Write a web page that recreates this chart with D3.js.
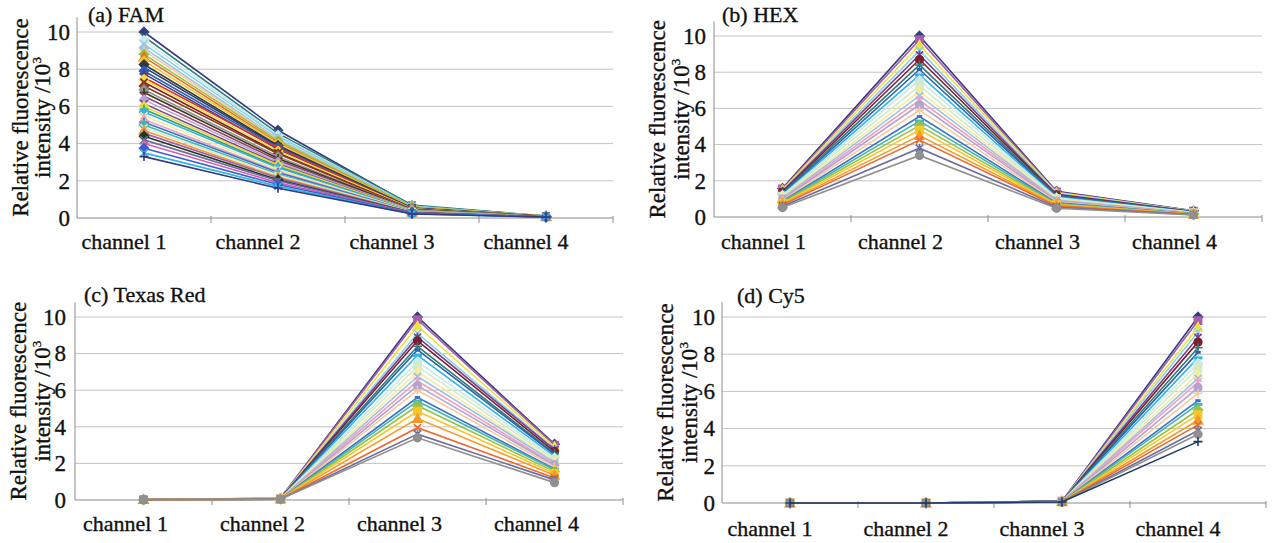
<!DOCTYPE html>
<html>
<head>
<meta charset="utf-8">
<script src="https://cdn.jsdelivr.net/npm/d3@7"></script>
<style>
  body { margin: 0; background: #fff; }
  svg { display: block; }
  svg text { font-family: "Liberation Serif", "Times New Roman", Times, serif !important; fill: #111; stroke: #111; stroke-width: 0.35px; }
</style>
</head>
<body>
<svg id="drawing_region"></svg>
<script>
// categories and ticks
const channels = ["channel 1", "channel 2", "channel 3", "channel 4"];
const yTicks = [0, 2, 4, 6, 8, 10];

// each row is one series: [channel 1, channel 2, channel 3, channel 4], in 10^3
const famValues = [
    [10.0, 4.72, 0.66, 0.10], [9.75, 4.55, 0.70, 0.10], [9.55, 4.45, 0.62, 0.09], [9.35, 4.38, 0.64, 0.10],
    [9.15, 4.25, 0.60, 0.09], [9.00, 4.20, 0.58, 0.09], [8.80, 4.15, 0.60, 0.10], [8.65, 4.05, 0.55, 0.09],
    [8.45, 4.00, 0.56, 0.09], [8.25, 3.90, 0.52, 0.08], [8.10, 3.85, 0.54, 0.09], [7.90, 3.80, 0.50, 0.08],
    [7.75, 3.70, 0.52, 0.08], [7.55, 3.75, 0.48, 0.08], [7.45, 3.60, 0.50, 0.08], [7.30, 3.50, 0.46, 0.08],
    [7.10, 3.45, 0.47, 0.08], [6.90, 3.30, 0.44, 0.07], [6.75, 3.20, 0.45, 0.08], [6.55, 3.10, 0.42, 0.07],
    [6.35, 3.00, 0.43, 0.07], [6.15, 2.90, 0.40, 0.07], [6.00, 2.85, 0.40, 0.07], [5.85, 2.75, 0.38, 0.07],
    [5.70, 2.70, 0.38, 0.07], [5.50, 2.60, 0.36, 0.06], [5.30, 2.50, 0.35, 0.07], [5.15, 2.45, 0.34, 0.06],
    [5.00, 2.35, 0.33, 0.06], [4.85, 2.30, 0.32, 0.06], [4.70, 2.20, 0.31, 0.06], [4.55, 2.15, 0.30, 0.06],
    [4.40, 2.05, 0.29, 0.06], [4.20, 2.00, 0.28, 0.05], [4.00, 1.90, 0.27, 0.05], [3.75, 1.80, 0.25, 0.05],
    [3.50, 1.70, 0.23, 0.05], [3.30, 1.60, 0.22, 0.05]
];
const hexValues = [
    [1.58, 10.0, 1.42, 0.34], [1.55, 9.80, 1.38, 0.33], [1.50, 9.50, 1.35, 0.32], [1.45, 9.20, 1.30, 0.31],
    [1.42, 8.95, 1.26, 0.30], [1.38, 8.70, 1.22, 0.29], [1.33, 8.40, 1.18, 0.28], [1.28, 8.15, 1.14, 0.27],
    [1.24, 7.85, 1.10, 0.26], [1.20, 7.55, 1.06, 0.25], [1.15, 7.25, 1.02, 0.24], [1.10, 6.95, 0.98, 0.23],
    [1.06, 6.70, 0.94, 0.22], [1.02, 6.45, 0.90, 0.21], [0.98, 6.20, 0.87, 0.20], [0.93, 5.90, 0.83, 0.19],
    [0.88, 5.55, 0.78, 0.18], [0.84, 5.30, 0.75, 0.18], [0.80, 5.05, 0.71, 0.17], [0.76, 4.80, 0.68, 0.16],
    [0.71, 4.50, 0.64, 0.15], [0.67, 4.25, 0.60, 0.14], [0.60, 3.80, 0.54, 0.13], [0.52, 3.40, 0.48, 0.11]
];
const texasRedValues = [
    [0.02, 0.09, 10.0, 3.05], [0.02, 0.09, 9.85, 3.00], [0.02, 0.08, 9.50, 2.90], [0.02, 0.08, 9.10, 2.80],
    [0.02, 0.08, 8.90, 2.75], [0.02, 0.08, 8.70, 2.65], [0.02, 0.08, 8.40, 2.55], [0.02, 0.07, 8.20, 2.50],
    [0.02, 0.07, 7.90, 2.40], [0.02, 0.07, 7.55, 2.30], [0.02, 0.07, 7.30, 2.20], [0.02, 0.07, 7.00, 2.10],
    [0.02, 0.06, 6.75, 2.05], [0.02, 0.06, 6.50, 1.95], [0.02, 0.06, 6.25, 1.90], [0.02, 0.06, 6.00, 1.80],
    [0.02, 0.06, 5.60, 1.70], [0.02, 0.05, 5.40, 1.65], [0.02, 0.05, 5.15, 1.55], [0.02, 0.05, 4.85, 1.45],
    [0.02, 0.05, 4.45, 1.35], [0.02, 0.05, 3.95, 1.20], [0.02, 0.04, 3.60, 1.10], [0.02, 0.04, 3.40, 0.95]
];
const cy5Values = [
    [0, 0, 0.10, 10.0], [0, 0, 0.10, 9.80], [0, 0, 0.10, 9.45], [0, 0, 0.09, 9.20], [0, 0, 0.09, 8.90],
    [0, 0, 0.09, 8.65], [0, 0, 0.09, 8.35], [0, 0, 0.09, 8.10], [0, 0, 0.08, 7.80], [0, 0, 0.08, 7.50],
    [0, 0, 0.08, 7.25], [0, 0, 0.08, 6.95], [0, 0, 0.08, 6.70], [0, 0, 0.08, 6.50], [0, 0, 0.07, 6.20],
    [0, 0, 0.07, 5.90], [0, 0, 0.07, 5.50], [0, 0, 0.07, 5.30], [0, 0, 0.07, 5.00], [0, 0, 0.06, 4.75],
    [0, 0, 0.06, 4.45], [0, 0, 0.06, 4.20], [0, 0, 0.06, 3.90], [0, 0, 0.06, 3.70], [0, 0, 0.05, 3.30]
];

// series colours (old office line palette, a bit washed out like the print)
const palette = [
    "#343b7f", "#a65dae", "#f0e23c", "#86d4ee", "#7d3f8c", "#7b1f2c", "#2c7c7a", "#2f5fb3",
    "#2fb5e6", "#cde8e6", "#d5eac6", "#f4ec9c", "#9cc2e6", "#f0a0c2", "#b3a3d3", "#f7c99c",
    "#4170c6", "#40b8b6", "#98c23f", "#f7c52c", "#f49b2a", "#ec6b2c", "#6b6da0", "#909090",
    "#203c66", "#3e9a6c", "#1f3a20", "#3b3b16", "#8e3b1c", "#914270", "#3c3d92", "#383838",
    "#e0312c", "#4caf50", "#3b5fd0", "#e8d83a", "#d65bb0"
];
const markerCycle = ["diamond", "square", "triangle", "x", "star", "circle", "plus", "dash", "longdash"];

// FAM panel has its series in a different colour order
const famColorIdx = [0, 6, 9, 3, 12, 15, 18, 21, 19, 31, 24, 7, 30, 32, 2, 5, 28, 23, 27, 29,
                     14, 4, 35, 25, 8, 11, 13, 16, 17, 10, 20, 1, 26, 22, 36, 34, 8, 0];
const famMarkers = ["diamond", "x", "diamond", "x", "diamond", "plus", "diamond", "triangle", "diamond", "diamond",
                    "x", "diamond", "plus", "x", "diamond", "x", "diamond", "diamond", "plus", "x",
                    "diamond", "x", "diamond", "plus", "diamond", "x", "triangle", "plus", "diamond", "x",
                    "triangle", "plus", "diamond", "x", "plus", "diamond", "x", "plus"];

function markerPath(type, r) {
    switch (type) {
        case "diamond": return `M0,${-r}L${r},0L0,${r}L${-r},0Z`;
        case "square": return `M${-r * 0.8},${-r * 0.8}h${r * 1.6}v${r * 1.6}h${-r * 1.6}Z`;
        case "triangle": return `M0,${-r}L${r},${r * 0.8}L${-r},${r * 0.8}Z`;
        case "circle": { const p = d3.path(); p.arc(0, 0, r * 0.85, 0, 2 * Math.PI); return p.toString(); }
        case "x": return `M${-r * 0.8},${-r * 0.8}L${r * 0.8},${r * 0.8}M${-r * 0.8},${r * 0.8}L${r * 0.8},${-r * 0.8}`;
        case "star": return `M${-r * 0.8},${-r * 0.8}L${r * 0.8},${r * 0.8}M${-r * 0.8},${r * 0.8}L${r * 0.8},${-r * 0.8}M0,${-r}V${r}`;
        case "plus": return `M${-r},0H${r}M0,${-r}V${r}`;
        case "dash": return `M${-r * 0.6},0H${r * 0.6}`;
        default: return `M${-r},0H${r}`;
    }
}
const filledMarkers = ["diamond", "square", "triangle", "circle"];

class LineChart {

    constructor(config, data) {
        this.config = config;
        this.data = data;
        this.init();
    }

    init() {
        let self = this;
        let c = self.config;
        self.g = d3.select('#drawing_region').append('g');

        self.xscale = d3.scaleBand()
            .domain(channels)
            .range([c.x0, c.x1]);
        self.yscale = d3.scaleLinear()
            .domain([0, 10])
            .range([c.yZero, c.yTen]);

        const y = self.yscale, x = self.xscale;
        const yTop = y(10.8);

        // gridlines
        self.g.append('g').selectAll('line').data(yTicks.filter(d => d > 0))
            .join('line')
            .attr('x1', c.x0).attr('x2', c.x1)
            .attr('y1', d => y(d)).attr('y2', d => y(d))
            .attr('stroke', '#c4c4c4').attr('stroke-width', 1);

        // axis lines and category boundary ticks
        self.g.append('line')
            .attr('x1', c.x0).attr('x2', c.x0).attr('y1', y(0)).attr('y2', yTop)
            .attr('stroke', '#8c8c8c');
        self.g.append('line')
            .attr('x1', c.x0).attr('x2', c.x1).attr('y1', y(0)).attr('y2', y(0))
            .attr('stroke', '#8c8c8c');
        self.g.append('g').selectAll('line').data(channels)
            .join('line')
            .attr('x1', d => x(d) + x.bandwidth()).attr('x2', d => x(d) + x.bandwidth())
            .attr('y1', y(0) - 2).attr('y2', y(0) + 5)
            .attr('stroke', '#8c8c8c');

        // tick labels
        const yaxis = d3.axisLeft(y).tickValues(yTicks).tickSize(0).tickPadding(c.tickGap);
        const ygroup = self.g.append('g')
            .attr('transform', `translate(${c.x0},0)`)
            .call(yaxis);
        ygroup.select('.domain').remove();
        ygroup.attr('font-size', 23);

        // the printed category labels sit a little left of the points
        const xaxis = d3.axisBottom(x).tickSize(0).tickPadding(c.labelPad);
        const xgroup = self.g.append('g')
            .attr('transform', `translate(${c.labelShift},${y(0)})`)
            .call(xaxis);
        xgroup.select('.domain').remove();
        xgroup.attr('font-size', 22);

        // panel title
        self.g.append('text')
            .attr('x', c.titleX).attr('y', c.titleY)
            .attr('font-size', 22)
            .text(c.title);

        // y axis title, two lines
        const cy = (y(0) + yTop) / 2;
        self.g.append('text')
            .attr('transform', `translate(${c.ytX1},${cy}) rotate(-90)`)
            .attr('text-anchor', 'middle')
            .attr('font-size', 23)
            .text('Relative fluorescence');
        const t2 = self.g.append('text')
            .attr('transform', `translate(${c.ytX2},${cy}) rotate(-90)`)
            .attr('text-anchor', 'middle')
            .attr('font-size', 23);
        t2.append('tspan').text('intensity /10');
        t2.append('tspan').attr('font-size', 13).attr('dy', -9).text('3');
    }

    render() {
        let self = this;
        const x = self.xscale, y = self.yscale;
        const cx = i => x(channels[i]) + x.bandwidth() / 2;
        const line = d3.line()
            .x((d, i) => cx(i))
            .y(d => y(d));

        const series = self.g.append('g').selectAll('g').data(self.data)
            .join('g')
            .attr('color', (d, i) => self.colorOf(i));

        series.append('path')
            .attr('d', d => line(d))
            .attr('fill', 'none')
            .attr('stroke', 'currentColor')
            .attr('stroke-width', 1.6);

        series.each(function (d, si) {
            const m = self.markerOf(si);
            const filled = filledMarkers.includes(m);
            d3.select(this).selectAll('path.mk').data(d)
                .join('path')
                .attr('class', 'mk')
                .attr('transform', (v, i) => `translate(${cx(i)},${y(v)})`)
                .attr('d', markerPath(m, 4.5))
                .attr('fill', filled ? 'currentColor' : 'none')
                .attr('stroke', 'currentColor')
                .attr('stroke-width', m === 'dash' || m === 'longdash' ? 3 : 1.6);
        });
    }

    colorOf(i) {
        const c = this.config;
        return c.colorIdx ? palette[c.colorIdx[i]] : palette[i % palette.length];
    }

    markerOf(i) {
        const c = this.config;
        return c.markers ? c.markers[i] : markerCycle[i % markerCycle.length];
    }
}

d3.select('#drawing_region').attr('width', 1276).attr('height', 543);

const panels = [
    { title: '(a) FAM', data: famValues, x0: 77, x1: 613, yZero: 218, yTen: 32, tickGap: 7, labelPad: 15,
      labelShift: -20, titleX: 88, titleY: 22, ytX1: 28, ytX2: 50, colorIdx: famColorIdx, markers: famMarkers },
    { title: '(b) HEX', data: hexValues, x0: 714, x1: 1262, yZero: 217, yTen: 36, tickGap: 8, labelPad: 16,
      labelShift: -19, titleX: 722, titleY: 22, ytX1: 665, ytX2: 689 },
    { title: '(c) Texas Red', data: texasRedValues, x0: 75, x1: 623, yZero: 500, yTen: 317, tickGap: 9, labelPad: 15,
      labelShift: -18, titleX: 84, titleY: 302, ytX1: 26, ytX2: 50 },
    { title: '(d) Cy5', data: cy5Values, x0: 722, x1: 1266, yZero: 503, yTen: 317, tickGap: 7, labelPad: 17,
      labelShift: -20, titleX: 737, titleY: 303, ytX1: 673, ytX2: 697 }
];

panels.forEach(p => {
    const chart = new LineChart(p, p.data);
    chart.render();
});
</script>
</body>
</html>
